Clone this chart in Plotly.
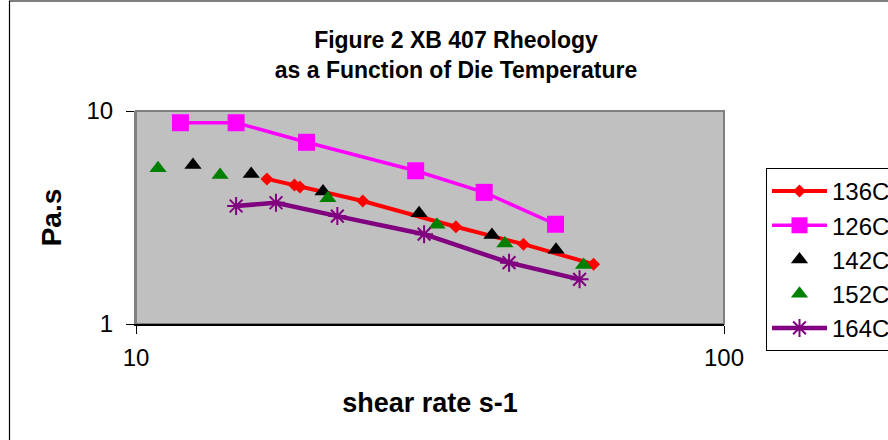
import plotly.graph_objects as go

# Shear rate (s-1) and viscosity (Pa.s) per die temperature
rate_136 = [16.7, 18.6, 19.0, 24.3, 35.0, 45.6, 60.0]
visc_136 = [4.80, 4.49, 4.40, 3.78, 2.86, 2.37, 1.91]

rate_126 = [11.9, 14.8, 19.5, 29.9, 39.1, 51.7]
visc_126 = [8.81, 8.81, 7.13, 5.24, 4.15, 2.94]

rate_142 = [12.5, 15.7, 20.8, 30.3, 40.3, 51.8]
visc_142 = [5.58, 5.06, 4.19, 3.31, 2.62, 2.23]

rate_152 = [10.9, 13.9, 21.2, 32.5, 42.4, 57.7]
visc_152 = [5.38, 5.01, 3.89, 2.92, 2.39, 1.89]

rate_164 = [14.8, 17.3, 22.0, 30.9, 43.1, 56.8]
visc_164 = [3.58, 3.71, 3.21, 2.64, 1.94, 1.62]

series_names = ["136C", "126C", "142C", "152C", "164C"]
x_ticks = [10, 100]
y_ticks = [1, 10]

W, H = 888, 440
ML, MR, MT, MB = 136, 164, 111, 116
PW, PH = W - ML - MR, H - MT - MB

FONT = "Arial, Liberation Sans, sans-serif"


def px_x(p):
    return (p - ML) / PW


def px_y(p):
    return (H - MB - p) / PH


fig = go.Figure()

fig.add_trace(go.Scatter(
    x=rate_136, y=visc_136, name=series_names[0], legendgroup="a",
    mode="lines+markers",
    line=dict(color="#FF0000", width=4),
    marker=dict(symbol="diamond", size=10, color="#FF0000"),
))
fig.add_trace(go.Scatter(
    x=rate_126, y=visc_126, name=series_names[1], legendgroup="b",
    mode="lines+markers",
    line=dict(color="#FF00FF", width=3.5),
    marker=dict(symbol="square", size=17, color="#FF00FF"),
))
fig.add_trace(go.Scatter(
    x=rate_142, y=visc_142, name=series_names[2], legendgroup="c",
    mode="markers",
    marker=dict(symbol="triangle-up", size=15, color="#000000"),
))
fig.add_trace(go.Scatter(
    x=rate_152, y=visc_152, name=series_names[3], legendgroup="d",
    mode="markers",
    marker=dict(symbol="triangle-up", size=15, color="#008000"),
))
fig.add_trace(go.Scatter(
    x=rate_164, y=visc_164, name=series_names[4], legendgroup="e",
    mode="lines+markers",
    line=dict(color="#800080", width=4.5),
    marker=dict(symbol="asterisk-open", size=15, color="#800080",
                line=dict(color="#800080", width=2)),
))

fig.update_layout(
    width=W, height=H,
    margin=dict(l=ML, r=MR, t=MT, b=MB, autoexpand=False),
    paper_bgcolor="white",
    plot_bgcolor="#C0C0C0",
    font=dict(family=FONT, color="black"),
    title=dict(
        text="<b>Figure 2 XB 407 Rheology<br>as a Function of Die Temperature</b>",
        x=456 / W, xanchor="center",
        y=1 - 48 / H, yanchor="middle",
        font=dict(size=23, family=FONT, color="black"),
    ),
    xaxis=dict(
        type="log", range=[1, 2],
        tickvals=x_ticks, ticktext=[str(v) for v in x_ticks],
        showgrid=False, zeroline=False,
        showline=True, linecolor="black", linewidth=1.5,
        ticks="outside", ticklen=8, tickcolor="black", tickwidth=1,
        ticklabelstandoff=3,
        tickfont=dict(size=24, family=FONT, color="black"),
        title=dict(text="<b>shear rate s-1</b>", standoff=24,
                   font=dict(size=27, family=FONT, color="black")),
    ),
    yaxis=dict(
        type="log", range=[0, 1],
        tickvals=y_ticks, ticktext=[str(v) for v in y_ticks],
        showgrid=False, zeroline=False,
        showline=True, linecolor="#808080", linewidth=2,
        ticks="outside", ticklen=8, tickcolor="black", tickwidth=1,
        ticklabelstandoff=8,
        tickfont=dict(size=24, family=FONT, color="black"),
        title=dict(text="<b>Pa.s</b>", standoff=17,
                   font=dict(size=28, family=FONT, color="black")),
    ),
    legend=dict(
        x=px_x(766), y=px_y(168), xanchor="left", yanchor="top",
        bgcolor="white", bordercolor="black", borderwidth=1,
        font=dict(size=24, family=FONT, color="black"),
        traceorder="grouped", tracegroupgap=0,
        itemwidth=55,
    ),
    shapes=[
        # plot-area frame (top and right edges)
        dict(type="rect", xref="paper", yref="paper", x0=0, x1=1, y0=0, y1=1,
             line=dict(color="#808080", width=2), layer="below"),
        # outer chart border
        dict(type="rect", xref="paper", yref="paper",
             x0=px_x(9.5), x1=px_x(930), y0=px_y(460), y1=px_y(1),
             line=dict(color="black", width=1.2)),
    ],
)

fig.write_html("out.html")
